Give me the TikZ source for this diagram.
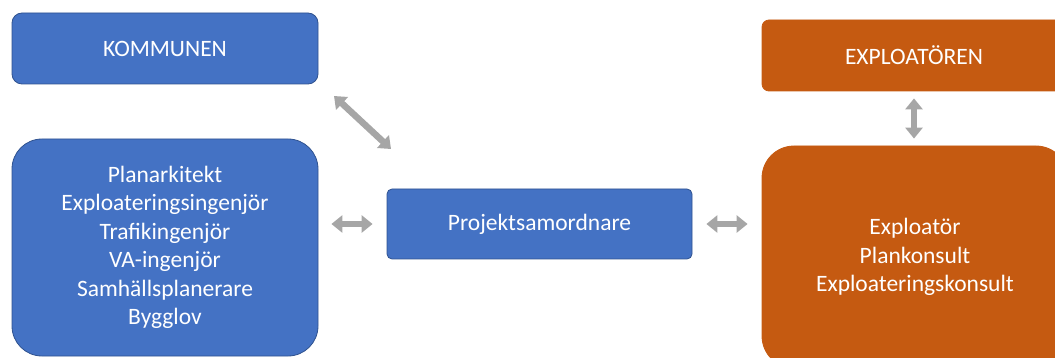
\documentclass[tikz,border=0pt]{standalone}
\usepackage{fontspec}
\setmainfont{Carlito}
\usetikzlibrary{arrows.meta}
\definecolor{bluefill}{HTML}{4472C4}
\definecolor{blueedge}{HTML}{2F528F}
\definecolor{orangefill}{HTML}{C55A11}
\definecolor{arrowgray}{HTML}{A6A6A6}
\tikzset{
  box/.style={draw=blueedge, line width=0.8pt, fill=bluefill, text=white, align=center, font=\fontsize{23.5}{28.5}\selectfont, inner sep=0pt},
  obox/.style={box, draw=orangefill, fill=orangefill},
  biarrow/.style={draw=arrowgray, line width=6.5pt, {Triangle[width=17pt,length=11pt]}-{Triangle[width=17pt,length=11pt]}},
}
\begin{document}
\begin{tikzpicture}[x=1pt,y=-1pt]
\useasboundingbox (0,0) rectangle (1055,358);
\clip (0,0) rectangle (1055,358);
\node[box, rounded corners=10pt, minimum width=306pt, minimum height=71pt] (kom) at (165,48.5) {KOMMUNEN};
\node[box, rounded corners=30pt, minimum width=306pt, minimum height=217pt] (roles) at (165,247.5)
  {Planarkitekt\\Exploateringsingenjör\\Trafikingenjör\\VA-ingenjör\\Samhällsplanerare\\Bygglov};
\node[box, rounded corners=5pt, minimum width=305pt, minimum height=70pt] (proj) at (539.5,224) {Projektsamordnare};
\node[obox, rounded corners=7pt, minimum width=304pt, minimum height=71pt] (expl) at (914,55.5) {EXPLOATÖREN};
\node[obox, rounded corners=32pt, minimum width=306pt, minimum height=222pt] (exproles) at (915,257)
  {Exploatör\\Plankonsult\\Exploateringskonsult};
\coordinate (d1) at (334,96);
\coordinate (d2) at (391,149);
\draw[biarrow] (d1) -- (d2);
\draw[biarrow, shorten <=13pt, shorten >=14pt] (roles.east |- proj) -- (proj.west);
\draw[biarrow, shorten <=14pt, shorten >=14pt] (proj.east) -- (exproles.west |- proj);
\draw[biarrow, shorten <=7pt, shorten >=7pt] (expl.south) -- (exproles.north -| expl.south);
\end{tikzpicture}
\end{document}
